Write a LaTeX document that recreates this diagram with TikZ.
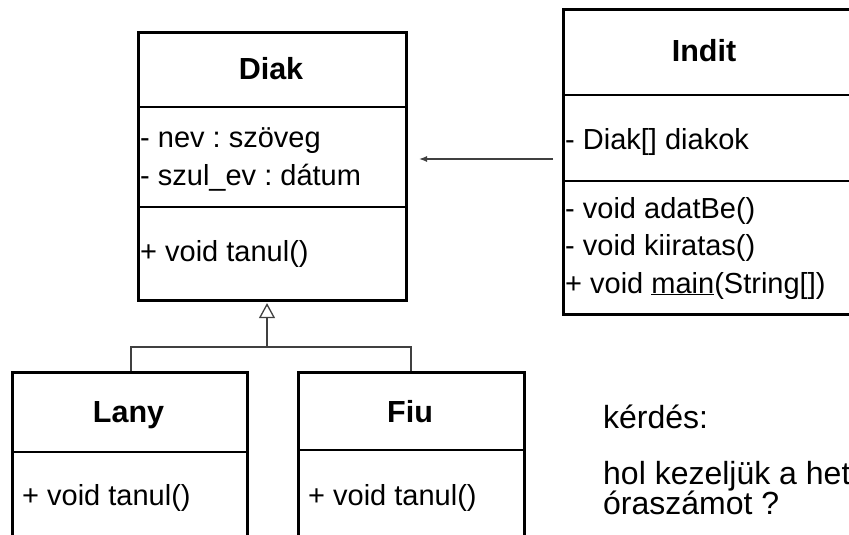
\documentclass[tikz,border=0pt]{standalone}
\usepackage{fontspec}
\setmainfont{Liberation Sans}
\usetikzlibrary{arrows.meta}
\frenchspacing
\begin{document}
\begin{tikzpicture}[x=1pt,y=-1pt,
  cls/.style={draw, line width=2.6pt, anchor=north west, inner sep=0pt},
  divider/.style={line width=1.2pt},
  txt/.style={anchor=base west, inner sep=0pt, font=\fontsize{29}{34}\selectfont},
  qtxt/.style={anchor=base west, inner sep=0pt, font=\fontsize{32}{36}\selectfont},
  ttl/.style={anchor=base, inner sep=0pt, font=\fontsize{30.5}{36}\selectfont\bfseries},
  conn/.style={line width=1.3pt, draw=black!75},
]
\useasboundingbox (0,0) rectangle (849,535);
\clip (0,0) rectangle (849,535);
% boxes
\node[cls, minimum width=268pt, minimum height=268pt] (diak) at (137,31) {};
\node[cls, minimum width=300pt, minimum height=305pt] (indit) at (562,8) {};
\node[cls, minimum width=235pt, minimum height=200pt] (lany) at (11,371) {};
\node[cls, minimum width=226pt, minimum height=200pt] (fiu) at (297,371) {};
% dividers
\draw[divider] (diak.west |- 0,107) -- (diak.east |- 0,107);
\draw[divider] (diak.west |- 0,207) -- (diak.east |- 0,207);
\draw[divider] (indit.west |- 0,95) -- (indit.east |- 0,95);
\draw[divider] (indit.west |- 0,181) -- (indit.east |- 0,181);
\draw[divider] (lany.west |- 0,452) -- (lany.east |- 0,452);
\draw[divider] (fiu.west |- 0,450) -- (fiu.east |- 0,450);
% texts
\node[ttl] (diakT) at (271,80) {Diak};
\node[txt] (d1) at (140,147) {- nev : szöveg};
\node[txt] (d2) at (140,185) {- szul\_ev : dátum};
\node[txt] (d3) at (140,261) {+ void tanul()};
\node[ttl] (inditT) at (704,62) {Indit};
\node[txt] (i1) at (565,149) {- Diak[] diakok};
\node[txt] (i2) at (565,218) {- void adatBe()};
\node[txt] (i3) at (565,255) {- void kiiratas()};
\node[txt] (i4) at (565,293) {+ void \underline{main}(String[])};
\node[ttl] (lanyT) at (128.5,422) {Lany};
\node[txt] (l1) at (22,505) {+ void tanul()};
\node[ttl] (fiuT) at (410,422) {Fiu};
\node[txt] (f1) at (308,505) {+ void tanul()};
\node[qtxt] (q1) at (603,428) {kérdés:};
\node[qtxt] (q2) at (603,484) {hol kezeljük a het};
\node[qtxt] (q3) at (603,514) {óraszámot ?};
% association arrow
\coordinate (aS) at (553,159);
\coordinate (aE) at (419,159);
\draw[conn, -{Latex[length=8pt,width=6pt]}] (aS) -- (aE);
% generalization
\coordinate (j) at (267,347);
\coordinate (jl) at (131,347);
\coordinate (jr) at (411,347);
\draw[conn] (lany.north -| jl) -- (jl) -- (jr) -- (fiu.north -| jr);
\draw[conn, shorten >=1.5pt, -{Triangle[open,length=15pt,width=16pt]}] (j) -- (diak.south -| j);
\end{tikzpicture}
\end{document}
